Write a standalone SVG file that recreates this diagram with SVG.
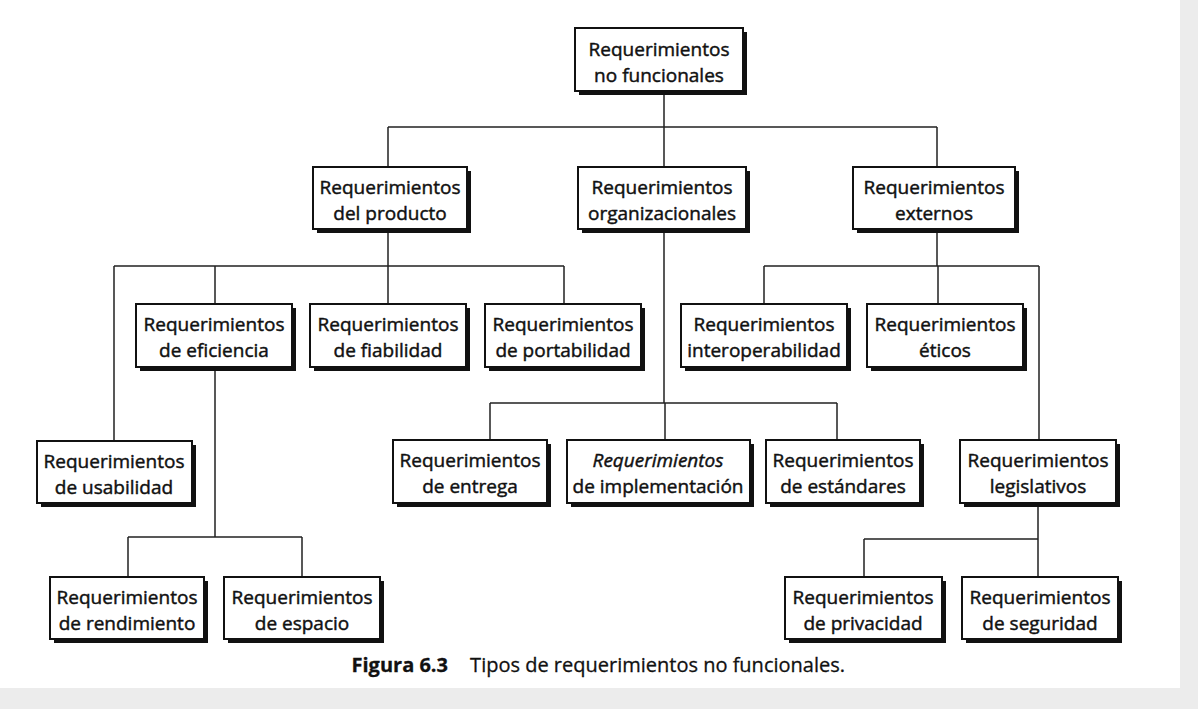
<svg xmlns="http://www.w3.org/2000/svg" width="1198" height="709" viewBox="0 0 1198 709">
<defs>
<style>
.bg{fill:#ececec}
.page{fill:#ffffff}
.sh{fill:#111}
.box{fill:#fff;stroke:#111;stroke-width:2}
.t{font-family:"Open Sans","Noto Sans",sans-serif;font-size:19px;fill:#111;stroke:#111;stroke-width:0.45;text-anchor:middle}
.c{fill:none;stroke:#222;stroke-width:1.5}
.cap{font-family:"Open Sans","Noto Sans",sans-serif;font-size:20px;fill:#111;stroke:#111;stroke-width:0.3}
</style>
</defs>
<rect class="bg" x="0" y="0" width="1198" height="709"/>
<rect class="page" x="0" y="0" width="1180" height="688"/>

<g id="connectors">
<path class="c" d="M664 91V127M388 127H937M388 127V167M664 127V167M937 127V167"/>
<path class="c" d="M388 229V266M114 266H564M114 266V441M215 266V304M388 266V304M564 266V304"/>
<path class="c" d="M937 229V266M764 266H1039M764 266V304M938 266V304M1039 266V440"/>
<path class="c" d="M664 229V403M490 403H837M490 403V440M665 403V440M837 403V440"/>
<path class="c" d="M215 367V537M128 537H302M128 537V577M302 537V577"/>
<path class="c" d="M1038 503V539M864 539H1038M864 539V577M1038 539V577"/>
</g>

<g id="n-root"><rect class="sh" x="579" y="32" width="168" height="63"/><rect class="box" x="575" y="28" width="168" height="63"/><text class="t" x="659" y="56">Requerimientos</text><text class="t" x="659" y="82">no funcionales</text></g>

<g id="n-producto"><rect class="sh" x="317" y="171" width="154" height="62"/><rect class="box" x="313" y="167" width="154" height="62"/><text class="t" x="390" y="194">Requerimientos</text><text class="t" x="390" y="220">del producto</text></g>
<g id="n-organizacionales"><rect class="sh" x="582" y="171" width="168" height="62"/><rect class="box" x="578" y="167" width="168" height="62"/><text class="t" x="662" y="194">Requerimientos</text><text class="t" x="662" y="220">organizacionales</text></g>
<g id="n-externos"><rect class="sh" x="857" y="171" width="162" height="62"/><rect class="box" x="853" y="167" width="162" height="62"/><text class="t" x="934" y="194">Requerimientos</text><text class="t" x="934" y="220">externos</text></g>

<g id="n-eficiencia"><rect class="sh" x="140" y="308" width="156" height="63"/><rect class="box" x="136" y="304" width="156" height="63"/><text class="t" x="214" y="331">Requerimientos</text><text class="t" x="214" y="357">de eficiencia</text></g>
<g id="n-fiabilidad"><rect class="sh" x="314" y="308" width="156" height="63"/><rect class="box" x="310" y="304" width="156" height="63"/><text class="t" x="388" y="331">Requerimientos</text><text class="t" x="388" y="357">de fiabilidad</text></g>
<g id="n-portabilidad"><rect class="sh" x="489" y="308" width="156" height="63"/><rect class="box" x="485" y="304" width="156" height="63"/><text class="t" x="563" y="331">Requerimientos</text><text class="t" x="563" y="357">de portabilidad</text></g>
<g id="n-interoperabilidad"><rect class="sh" x="685" y="308" width="166" height="63"/><rect class="box" x="681" y="304" width="166" height="63"/><text class="t" x="764" y="331">Requerimientos</text><text class="t" x="764" y="357">interoperabilidad</text></g>
<g id="n-eticos"><rect class="sh" x="871" y="308" width="156" height="63"/><rect class="box" x="867" y="304" width="156" height="63"/><text class="t" x="945" y="331">Requerimientos</text><text class="t" x="945" y="357">éticos</text></g>

<g id="n-usabilidad"><rect class="sh" x="41" y="445" width="155" height="62"/><rect class="box" x="37" y="441" width="155" height="62"/><text class="t" x="114" y="468">Requerimientos</text><text class="t" x="114" y="494">de usabilidad</text></g>
<g id="n-entrega"><rect class="sh" x="397" y="444" width="154" height="63"/><rect class="box" x="393" y="440" width="154" height="63"/><text class="t" x="470" y="467">Requerimientos</text><text class="t" x="470" y="493">de entrega</text></g>
<g id="n-implementacion"><rect class="sh" x="571" y="444" width="183" height="63"/><rect class="box" x="567" y="440" width="183" height="63"/><text class="t" x="658" y="467" font-style="italic">Requerimientos</text><text class="t" x="658" y="493">de implementación</text></g>
<g id="n-estandares"><rect class="sh" x="770" y="444" width="154" height="63"/><rect class="box" x="766" y="440" width="154" height="63"/><text class="t" x="843" y="467">Requerimientos</text><text class="t" x="843" y="493">de estándares</text></g>
<g id="n-legislativos"><rect class="sh" x="964" y="444" width="156" height="63"/><rect class="box" x="960" y="440" width="156" height="63"/><text class="t" x="1038" y="467">Requerimientos</text><text class="t" x="1038" y="493">legislativos</text></g>

<g id="n-rendimiento"><rect class="sh" x="54" y="581" width="154" height="62"/><rect class="box" x="50" y="577" width="154" height="62"/><text class="t" x="127" y="604">Requerimientos</text><text class="t" x="127" y="630">de rendimiento</text></g>
<g id="n-espacio"><rect class="sh" x="228" y="581" width="156" height="62"/><rect class="box" x="224" y="577" width="156" height="62"/><text class="t" x="302" y="604">Requerimientos</text><text class="t" x="302" y="630">de espacio</text></g>
<g id="n-privacidad"><rect class="sh" x="789" y="581" width="157" height="62"/><rect class="box" x="785" y="577" width="157" height="62"/><text class="t" x="863" y="604">Requerimientos</text><text class="t" x="863" y="630">de privacidad</text></g>
<g id="n-seguridad"><rect class="sh" x="966" y="581" width="156" height="62"/><rect class="box" x="962" y="577" width="156" height="62"/><text class="t" x="1040" y="604">Requerimientos</text><text class="t" x="1040" y="630">de seguridad</text></g>

<g id="caption"><text class="cap" x="448" y="672" text-anchor="end" font-weight="700">Figura 6.3</text><text class="cap" x="845" y="672" text-anchor="end">Tipos de requerimientos no funcionales.</text></g>
</svg>
